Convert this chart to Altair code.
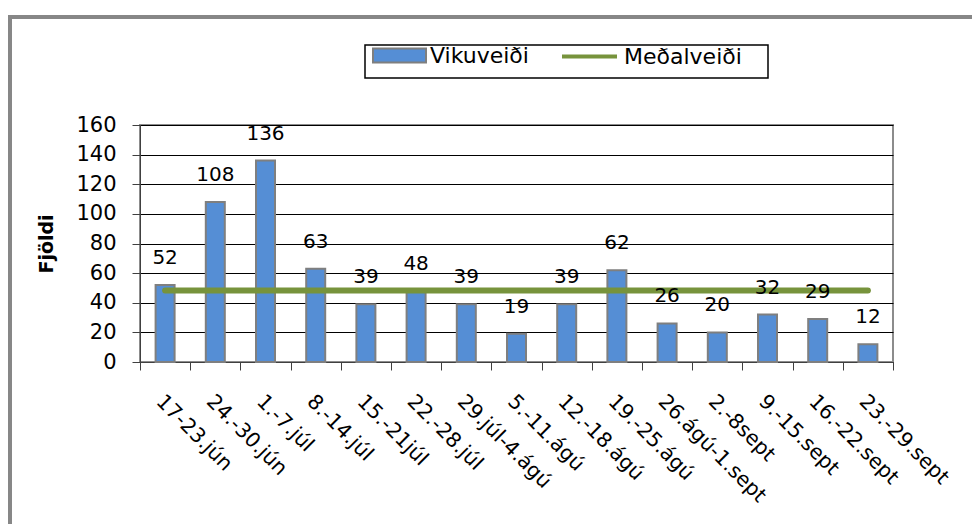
import altair as alt
import pandas as pd

weeks = ["17-23.jún", "24.-30.jún", "1.-7.júl", "8.-14.júl", "15.-21júl",
         "22.-28.júl", "29.júl-4.ágú", "5.-11.ágú", "12.-18.ágú", "19.-25.ágú",
         "26.ágú-1.sept", "2.-8sept", "9.-15.sept", "16.-22.sept", "23.-29.sept"]
vikuveidi = [52, 108, 136, 63, 39, 48, 39, 19, 39, 62, 26, 20, 32, 29, 12]
medalveidi = [48.3, 48.3, 48.3, 48.3, 48.3, 48.3, 48.3, 48.3, 48.3, 48.3,
              48.3, 48.3, 48.3, 48.3, 48.3]
y_ticks = [0, 20, 40, 60, 80, 100, 120, 140, 160]

df = pd.DataFrame({"week": weeks, "catch": vikuveidi, "mean": medalveidi})

FONT = "DejaVu Sans"
BLUE = "#558ed5"
GREEN = "#77933c"

x = alt.X("week:N", sort=weeks, title=None,
          scale=alt.Scale(paddingInner=0, paddingOuter=0),
          axis=alt.Axis(labelAngle=45, labelAlign="left", labelBaseline="middle",
                        labelFontSize=20.5, labelFont=FONT, labelColor="black",
                        labelPadding=28, labelOffset=-6, tickBand="extent",
                        tickSize=8, tickColor="#404040", domainColor="#404040",
                        grid=False, labelOverlap=False))


def yenc(field):
    return alt.Y(field, type="quantitative",
                 scale=alt.Scale(domain=[0, 160], nice=False),
                 axis=alt.Axis(values=y_ticks, title="Fjöldi", titleFont=FONT,
                               titleFontSize=19, titleFontWeight="bold",
                               titleColor="black", titlePadding=19,
                               labelFont=FONT, labelFontSize=21, labelColor="black",
                               labelPadding=16, tickSize=8, tickColor="#404040",
                               domainColor="#404040", grid=True, gridColor="black",
                               gridWidth=1))


base = alt.Chart(df)

bars = base.transform_calculate(s1="'Vikuveiði'").mark_bar(
    size=19, stroke="#7f7f7f", strokeWidth=2).encode(
    x=x, y=yenc("catch"),
    fill=alt.Fill("s1:N",
                  scale=alt.Scale(domain=["Vikuveiði"], range=[BLUE]),
                  legend=alt.Legend(title=None, orient="none", legendX=232, legendY=-97,
                                    symbolType="M-1,-0.26H1V0.26H-1Z", symbolSize=2809,
                                    symbolStrokeColor="#7f7f7f", symbolStrokeWidth=2,
                                    labelFont=FONT, labelFontSize=22, labelColor="black",
                                    labelOffset=3, padding=0)))

line = base.transform_calculate(s2="'Meðalveiði'").mark_line(
    strokeWidth=6, strokeCap="round").encode(
    x=x, y=yenc("mean"),
    stroke=alt.Stroke("s2:N",
                      scale=alt.Scale(domain=["Meðalveiði"], range=[GREEN]),
                      legend=alt.Legend(title=None, orient="none", legendX=420, legendY=-98,
                                        symbolType="stroke", symbolSize=3025,
                                        symbolStrokeWidth=4,
                                        labelFont=FONT, labelFontSize=22, labelColor="black",
                                        labelOffset=5, padding=0)))

labels = base.mark_text(dy=-27, fontSize=20, font=FONT, color="black", baseline="middle").encode(
    x=x, y=yenc("catch"), text="catch:Q")

deco = alt.Chart(pd.DataFrame({"k": [0]}))
outer = deco.mark_rect(filled=False, stroke="#878787", strokeWidth=4).encode(
    x=alt.value(-130), x2=alt.value(950), y=alt.value(-108), y2=alt.value(500))
legbox = deco.mark_rect(filled=False, stroke="black", strokeWidth=1.5).encode(
    x=alt.value(225), x2=alt.value(628), y=alt.value(-80), y2=alt.value(-47))

chart = alt.layer(outer, legbox, bars, line, labels).properties(
    width=753, height=237,
    padding={"left": 132, "top": 117, "right": 79, "bottom": 162},
    autosize=alt.AutoSizeParams(type="none"),
).configure_view(stroke="#8c8c8c", strokeWidth=2)

chart.save("out.html", embed_options={"renderer": "svg", "actions": False})
